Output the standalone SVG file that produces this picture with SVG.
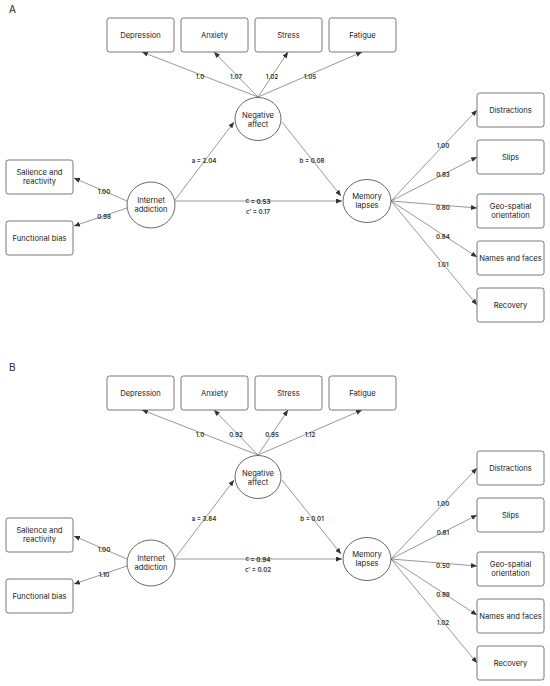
<svg xmlns="http://www.w3.org/2000/svg" width="550" height="686" viewBox="0 0 550 686">
<defs>
<marker id="ah" viewBox="0 0 6 5" refX="6" refY="2.5" markerWidth="6" markerHeight="5" markerUnits="userSpaceOnUse" orient="auto">
<path d="M0,0 L6,2.5 L0,5 z" fill="#333"/>
</marker>
<style>
.box{fill:#fff;stroke:#555;stroke-width:0.8}
.ell{fill:#fff;stroke:#444;stroke-width:0.8}
.lbl{font-family:Inter,"Liberation Sans",sans-serif;font-size:7.6px;fill:#222;text-anchor:middle;dominant-baseline:central}
.num{font-family:Inter,"Liberation Sans",sans-serif;font-size:6.2px;font-weight:600;fill:#333;text-anchor:middle;dominant-baseline:central}
.ttl{font-family:Inter,"Liberation Sans",sans-serif;font-size:10px;fill:#222}
.con{stroke:#7d7d7d;stroke-width:0.8;fill:none;marker-end:url(#ah)}
</style>
</defs>
<rect width="550" height="686" fill="#fff"/>

<!-- Panel A -->
<g id="panelA">
<text class="ttl" x="9" y="13">A</text>
<g id="A-connectors">
<line class="con" x1="258" y1="97" x2="142" y2="52"/>
<line class="con" x1="258" y1="97" x2="214" y2="52"/>
<line class="con" x1="258" y1="97" x2="288" y2="52"/>
<line class="con" x1="258" y1="97" x2="362" y2="52"/>
<line class="con" x1="127" y1="201" x2="74" y2="178"/>
<line class="con" x1="127" y1="208" x2="74" y2="226"/>
<line class="con" x1="175" y1="200" x2="234" y2="122"/>
<line class="con" x1="175" y1="201" x2="342" y2="201"/>
<line class="con" x1="282" y1="122" x2="341" y2="196"/>
<line class="con" x1="391" y1="201" x2="477" y2="110"/>
<line class="con" x1="391" y1="201" x2="477" y2="157"/>
<line class="con" x1="391" y1="201" x2="477" y2="208"/>
<line class="con" x1="391" y1="201" x2="477" y2="257"/>
<line class="con" x1="391" y1="201" x2="477" y2="305"/>
<text class="num" x="200" y="76">1.0</text>
<text class="num" x="236" y="76">1.07</text>
<text class="num" x="272" y="76">1.02</text>
<text class="num" x="310" y="76">1.05</text>
<text class="num" x="104" y="191">1.00</text>
<text class="num" x="104" y="216">0.98</text>
<text class="num" x="204" y="160">a = 2.04</text>
<text class="num" x="312" y="160">b = 0.08</text>
<text class="num" x="258" y="200.5">c = <tspan font-weight="700">0.53</tspan></text>
<text class="num" x="258" y="211">c’ = 0.17</text>
<text class="num" x="443" y="145">1.00</text>
<text class="num" x="443" y="174">0.83</text>
<text class="num" x="443" y="207">0.80</text>
<text class="num" x="443" y="236">0.84</text>
<text class="num" x="443" y="264">1.01</text>
</g>
<g id="A-depression"><rect class="box" x="107" y="18" width="67" height="34" rx="2.5"/><text class="lbl" x="140.5" y="35">Depression</text></g>
<g id="A-anxiety"><rect class="box" x="181" y="18" width="67" height="34" rx="2.5"/><text class="lbl" x="214.5" y="35">Anxiety</text></g>
<g id="A-stress"><rect class="box" x="255" y="18" width="67" height="34" rx="2.5"/><text class="lbl" x="288.5" y="35">Stress</text></g>
<g id="A-fatigue"><rect class="box" x="329" y="18" width="67" height="34" rx="2.5"/><text class="lbl" x="362.5" y="35">Fatigue</text></g>
<g id="A-negative-affect"><ellipse class="ell" cx="258" cy="119" rx="23" ry="21.5"/><text class="lbl" x="258" y="115">Negative</text><text class="lbl" x="258" y="124">affect</text></g>
<g id="A-internet-addiction"><ellipse class="ell" cx="151" cy="205" rx="24" ry="23"/><text class="lbl" x="151" y="200.5">Internet</text><text class="lbl" x="151" y="209.5">addiction</text></g>
<g id="A-memory-lapses"><ellipse class="ell" cx="367" cy="201" rx="24" ry="21.5"/><text class="lbl" x="367" y="196.5">Memory</text><text class="lbl" x="367" y="205.5">lapses</text></g>
<g id="A-salience"><rect class="box" x="6" y="160" width="67" height="34" rx="2.5"/><text class="lbl" x="39.5" y="172.5">Salience and</text><text class="lbl" x="39.5" y="181.5">reactivity</text></g>
<g id="A-functional-bias"><rect class="box" x="6" y="221" width="67" height="34" rx="2.5"/><text class="lbl" x="39.5" y="238">Functional bias</text></g>
<g id="A-distractions"><rect class="box" x="477" y="93" width="67" height="34" rx="2.5"/><text class="lbl" x="510.5" y="110">Distractions</text></g>
<g id="A-slips"><rect class="box" x="477" y="140" width="67" height="34" rx="2.5"/><text class="lbl" x="510.5" y="157">Slips</text></g>
<g id="A-geo"><rect class="box" x="477" y="194" width="67" height="34" rx="2.5"/><text class="lbl" x="510.5" y="206.5">Geo-spatial</text><text class="lbl" x="510.5" y="215.5">orientation</text></g>
<g id="A-names"><rect class="box" x="477" y="241" width="67" height="34" rx="2.5"/><text class="lbl" x="510.5" y="258">Names and faces</text></g>
<g id="A-recovery"><rect class="box" x="477" y="288" width="67" height="34" rx="2.5"/><text class="lbl" x="510.5" y="305">Recovery</text></g>
</g>

<!-- Panel B -->
<g id="panelB" transform="translate(0,358)">
<text class="ttl" x="9" y="13">B</text>
<g id="B-connectors">
<line class="con" x1="258" y1="97" x2="142" y2="52"/>
<line class="con" x1="258" y1="97" x2="214" y2="52"/>
<line class="con" x1="258" y1="97" x2="288" y2="52"/>
<line class="con" x1="258" y1="97" x2="362" y2="52"/>
<line class="con" x1="127" y1="201" x2="74" y2="178"/>
<line class="con" x1="127" y1="208" x2="74" y2="226"/>
<line class="con" x1="175" y1="200" x2="234" y2="122"/>
<line class="con" x1="175" y1="201" x2="342" y2="201"/>
<line class="con" x1="282" y1="122" x2="341" y2="196"/>
<line class="con" x1="391" y1="201" x2="477" y2="110"/>
<line class="con" x1="391" y1="201" x2="477" y2="157"/>
<line class="con" x1="391" y1="201" x2="477" y2="208"/>
<line class="con" x1="391" y1="201" x2="477" y2="257"/>
<line class="con" x1="391" y1="201" x2="477" y2="305"/>
<text class="num" x="200" y="76">1.0</text>
<text class="num" x="236" y="76">0.92</text>
<text class="num" x="272" y="76">0.95</text>
<text class="num" x="310" y="76">1.12</text>
<text class="num" x="104" y="191">1.00</text>
<text class="num" x="104" y="216">1.10</text>
<text class="num" x="204" y="160">a = 3.84</text>
<text class="num" x="312" y="160">b = 0.01</text>
<text class="num" x="258" y="200.5">c = <tspan font-weight="700">0.94</tspan></text>
<text class="num" x="258" y="211">c’ = 0.02</text>
<text class="num" x="443" y="145">1.00</text>
<text class="num" x="443" y="174">0.81</text>
<text class="num" x="443" y="207">0.50</text>
<text class="num" x="443" y="236">0.89</text>
<text class="num" x="443" y="264">1.02</text>
</g>
<g id="B-depression"><rect class="box" x="107" y="18" width="67" height="34" rx="2.5"/><text class="lbl" x="140.5" y="35">Depression</text></g>
<g id="B-anxiety"><rect class="box" x="181" y="18" width="67" height="34" rx="2.5"/><text class="lbl" x="214.5" y="35">Anxiety</text></g>
<g id="B-stress"><rect class="box" x="255" y="18" width="67" height="34" rx="2.5"/><text class="lbl" x="288.5" y="35">Stress</text></g>
<g id="B-fatigue"><rect class="box" x="329" y="18" width="67" height="34" rx="2.5"/><text class="lbl" x="362.5" y="35">Fatigue</text></g>
<g id="B-negative-affect"><ellipse class="ell" cx="258" cy="119" rx="23" ry="21.5"/><text class="lbl" x="258" y="115">Negative</text><text class="lbl" x="258" y="124">affect</text></g>
<g id="B-internet-addiction"><ellipse class="ell" cx="151" cy="205" rx="24" ry="23"/><text class="lbl" x="151" y="200.5">Internet</text><text class="lbl" x="151" y="209.5">addiction</text></g>
<g id="B-memory-lapses"><ellipse class="ell" cx="367" cy="201" rx="24" ry="21.5"/><text class="lbl" x="367" y="196.5">Memory</text><text class="lbl" x="367" y="205.5">lapses</text></g>
<g id="B-salience"><rect class="box" x="6" y="160" width="67" height="34" rx="2.5"/><text class="lbl" x="39.5" y="172.5">Salience and</text><text class="lbl" x="39.5" y="181.5">reactivity</text></g>
<g id="B-functional-bias"><rect class="box" x="6" y="221" width="67" height="34" rx="2.5"/><text class="lbl" x="39.5" y="238">Functional bias</text></g>
<g id="B-distractions"><rect class="box" x="477" y="93" width="67" height="34" rx="2.5"/><text class="lbl" x="510.5" y="110">Distractions</text></g>
<g id="B-slips"><rect class="box" x="477" y="140" width="67" height="34" rx="2.5"/><text class="lbl" x="510.5" y="157">Slips</text></g>
<g id="B-geo"><rect class="box" x="477" y="194" width="67" height="34" rx="2.5"/><text class="lbl" x="510.5" y="206.5">Geo-spatial</text><text class="lbl" x="510.5" y="215.5">orientation</text></g>
<g id="B-names"><rect class="box" x="477" y="241" width="67" height="34" rx="2.5"/><text class="lbl" x="510.5" y="258">Names and faces</text></g>
<g id="B-recovery"><rect class="box" x="477" y="288" width="67" height="34" rx="2.5"/><text class="lbl" x="510.5" y="305">Recovery</text></g>
</g>
</svg>
